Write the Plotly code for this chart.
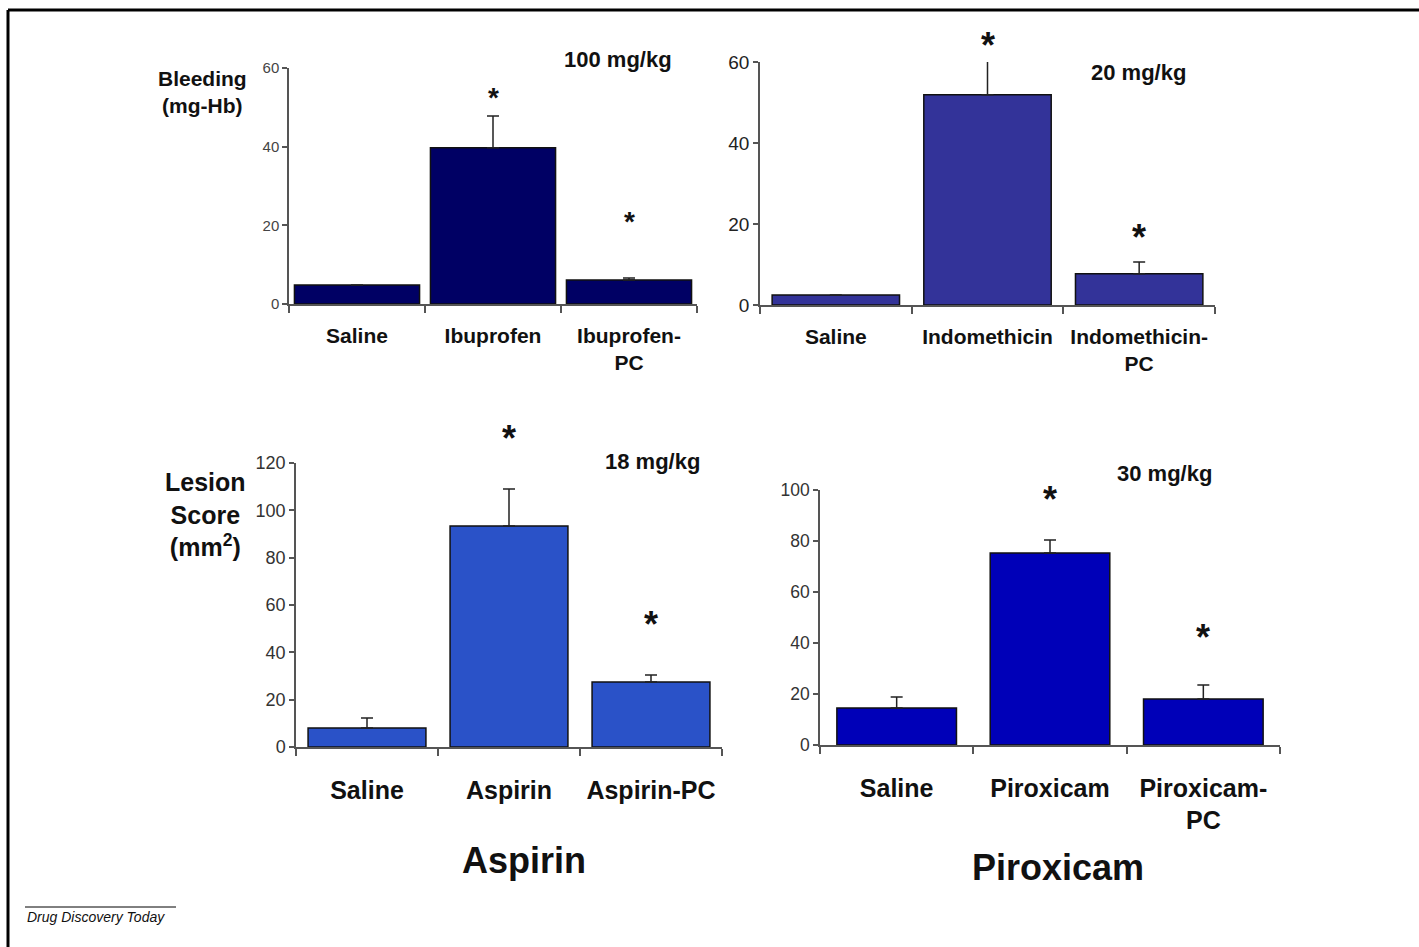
import plotly.graph_objects as go

W, H = 1419, 947
FONT = "Liberation Sans"

# ---------------- data ----------------
cats_ibu = ["Saline", "Ibuprofen", "Ibuprofen-PC"]
labels_ibu = ["Saline", "Ibuprofen", "Ibuprofen-<br>PC"]
vals_ibu = [4.8, 39.7, 6.1]
err_ibu = [None, 8.1, 0.5]
star_ibu = [None, 53.0, 21.6]

cats_indo = ["Saline", "Indomethicin", "Indomethicin-PC"]
labels_indo = ["Saline", "Indomethicin", "Indomethicin-<br>PC"]
vals_indo = [2.5, 51.9, 7.7]
err_indo = [None, 8.6, 2.9]
star_indo = [None, 65.0, 17.6]

cats_asp = ["Saline", "Aspirin", "Aspirin-PC"]
labels_asp = ["Saline", "Aspirin", "Aspirin-PC"]
vals_asp = [8.0, 93.4, 27.5]
err_asp = [4.3, 15.6, 2.9]
star_asp = [None, 132.0, 53.5]

cats_pir = ["Saline", "Piroxicam", "Piroxicam-PC"]
labels_pir = ["Saline", "Piroxicam", "Piroxicam-<br>PC"]
vals_pir = [14.5, 75.3, 18.0]
err_pir = [4.3, 5.1, 5.5]
star_pir = [None, 98.0, 43.8]

# ---------------- layout helpers ----------------
def px_x(p):
    return p / W

def px_y(p):
    return 1 - p / H

panels = [
    dict(cats=cats_ibu, labels=labels_ibu, vals=vals_ibu, err=err_ibu, star=star_ibu,
         x=(289, 697), y=(304, 68), yr=[0, 60], dt=20, color="#000064", width=0.92,
         tickfont=15, tickcolor="#444", catfont=21, starfont=28, standoff=12,
         dose="100 mg/kg", dose_pos=(618, 60)),
    dict(cats=cats_indo, labels=labels_indo, vals=vals_indo, err=err_indo, star=star_indo,
         x=(760, 1215), y=(305, 62), yr=[0, 60], dt=20, color="#333399", width=0.84,
         tickfont=19, tickcolor="#222", catfont=21, starfont=36, standoff=12,
         dose="20 mg/kg", dose_pos=(1138, 73)),
    dict(cats=cats_asp, labels=labels_asp, vals=vals_asp, err=err_asp, star=star_asp,
         x=(296, 722), y=(747, 463), yr=[0, 120], dt=20, color="#2a52c8", width=0.83,
         tickfont=18, tickcolor="#333", catfont=25, starfont=36, standoff=20,
         dose="18 mg/kg", dose_pos=(652, 462)),
    dict(cats=cats_pir, labels=labels_pir, vals=vals_pir, err=err_pir, star=star_pir,
         x=(820, 1280), y=(745, 490), yr=[0, 100], dt=20, color="#0000b8", width=0.78,
         tickfont=17.5, tickcolor="#333", catfont=25, starfont=36, standoff=20,
         dose="30 mg/kg", dose_pos=(1164, 473)),
]

fig = go.Figure()
annotations = []
layout_axes = {}

for i, p in enumerate(panels, start=1):
    xa = "x" if i == 1 else f"x{i}"
    ya = "y" if i == 1 else f"y{i}"
    err_plus = [e if e is not None else 0 for e in p["err"]]
    fig.add_trace(go.Bar(
        x=p["cats"], y=p["vals"], xaxis=xa, yaxis=ya,
        width=[p["width"]] * len(p["cats"]),
        marker=dict(color=p["color"], line=dict(color="#111", width=1.5)),
        error_y=dict(type="data", symmetric=False, array=err_plus,
                     arrayminus=[0] * len(p["cats"]),
                     color="#222", thickness=1.5, width=6),
        showlegend=False, hoverinfo="x+y",
    ))
    xkey = "xaxis" if i == 1 else f"xaxis{i}"
    ykey = "yaxis" if i == 1 else f"yaxis{i}"
    layout_axes[xkey] = dict(
        domain=[px_x(p["x"][0]), px_x(p["x"][1])], anchor=ya,
        type="category", categoryorder="array", categoryarray=p["cats"],
        range=[-0.5, len(p["cats"]) - 0.5],
        tickmode="array", tickvals=p["cats"], ticktext=p["labels"],
        tickson="boundaries", ticks="outside", ticklen=7, tickwidth=1.5,
        tickcolor="#555", showline=True, linecolor="#555", linewidth=1.5,
        showgrid=False, zeroline=False, ticklabelstandoff=p["standoff"],
        automargin=False,
        tickfont=dict(family=FONT, size=p["catfont"], color="#111", weight="bold"),
    )
    layout_axes[ykey] = dict(
        domain=[px_y(p["y"][0]), px_y(p["y"][1])], anchor=xa,
        range=p["yr"], dtick=p["dt"], tick0=0,
        ticks="outside", ticklen=5, tickwidth=1.5, tickcolor="#555",
        showline=True, linecolor="#555", linewidth=1.5,
        showgrid=False, zeroline=False, automargin=False,
        tickfont=dict(family=FONT, size=p["tickfont"], color=p["tickcolor"]),
    )
    for c, s in zip(p["cats"], p["star"]):
        if s is not None:
            annotations.append(dict(
                x=c, y=s / p["yr"][1], xref=xa, yref=f"{ya} domain",
                text="*", showarrow=False, xanchor="center", yanchor="middle",
                font=dict(family=FONT, size=p["starfont"], color="#111", weight="bold"),
                yshift=-p["starfont"] * 0.22 + 4,
            ))
    annotations.append(dict(
        x=px_x(p["dose_pos"][0]), y=px_y(p["dose_pos"][1]), xref="paper", yref="paper",
        text=p["dose"], showarrow=False, xanchor="center", yanchor="middle",
        font=dict(family=FONT, size=22, color="#111", weight="bold"),
    ))

# axis titles / panel titles
def txt(x, y, text, size, **kw):
    d = dict(x=px_x(x), y=px_y(y), xref="paper", yref="paper", showarrow=False,
             text=text, xanchor="center", yanchor="middle",
             font=dict(family=FONT, size=size, color="#111", weight="bold"))
    d.update(kw)
    return d

annotations += [
    txt(202, 92, "Bleeding<br>(mg-Hb)", 21),
    txt(206, 514, "Lesion<br>Score<br>(mm<sup>2</sup>)", 25),
    txt(524, 860, "Aspirin", 36),
    txt(1058, 867, "Piroxicam", 36),
    txt(25, 917, "<i>Drug Discovery Today</i>", 14, xanchor="left",
        font=dict(family=FONT, size=14, color="#111")),
]

shapes = [
    dict(type="line", xref="paper", yref="paper", x0=px_x(8), x1=1.0,
         y0=px_y(10), y1=px_y(10), line=dict(color="#000", width=3)),
    dict(type="line", xref="paper", yref="paper", x0=px_x(8), x1=px_x(8),
         y0=px_y(10), y1=0.0, line=dict(color="#000", width=3)),
    dict(type="line", xref="paper", yref="paper", x0=px_x(25), x1=px_x(176),
         y0=px_y(907), y1=px_y(907), line=dict(color="#000", width=1)),
]

fig.update_layout(
    width=W, height=H,
    margin=dict(l=0, r=0, t=0, b=0, pad=0, autoexpand=False),
    paper_bgcolor="white", plot_bgcolor="white",
    annotations=annotations, shapes=shapes, **layout_axes,
)

fig.write_html(
    "out.html",
    config={"displayModeBar": False},
    post_script="document.body.style.margin='0px';",
)
